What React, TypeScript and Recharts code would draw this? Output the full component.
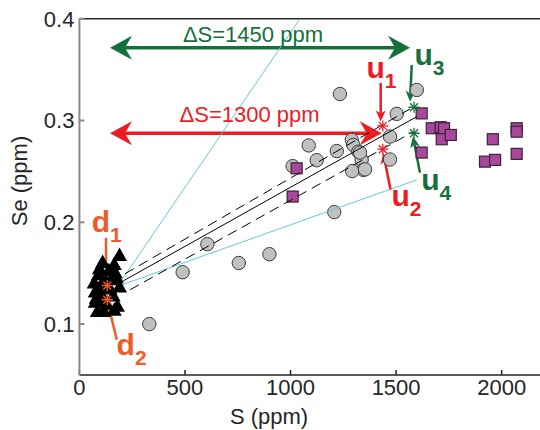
import React from 'react'
import { ReferenceDot, ReferenceLine, Scatter, ScatterChart, XAxis, YAxis } from 'recharts'

const FONT = '"Liberation Sans", Arial, Helvetica, sans-serif'
const RED = '#ed1c24'
const GREEN = '#15703b'
const ORANGE = '#f15a29'
const CYAN = '#62c8e2'
const PURPLE = '#a8479c'

// eixos
const X_DOMAIN = [0, 2200]
const Y_DOMAIN = [0.05, 0.4]
const X_TICKS = [0, 500, 1000, 1500, 2000]
const Y_TICKS = [0.1, 0.2, 0.3, 0.4]

// triângulos pretos (aglomerado perto de S ~ 100 ppm)
const triangulos = [
  { S: 190, Se: 0.167 }, { S: 165, Se: 0.158 }, { S: 110, Se: 0.16 }, { S: 140, Se: 0.152 },
  { S: 90, Se: 0.148 }, { S: 175, Se: 0.145 }, { S: 70, Se: 0.14 }, { S: 125, Se: 0.141 },
  { S: 190, Se: 0.136 }, { S: 75, Se: 0.131 }, { S: 105, Se: 0.128 }, { S: 160, Se: 0.127 },
  { S: 75, Se: 0.121 }, { S: 130, Se: 0.119 }, { S: 180, Se: 0.117 }, { S: 85, Se: 0.112 },
  { S: 115, Se: 0.112 }, { S: 165, Se: 0.113 }, { S: 90, Se: 0.133 }, { S: 145, Se: 0.134 },
  { S: 115, Se: 0.123 }, { S: 80, Se: 0.125 }, { S: 170, Se: 0.15 }, { S: 95, Se: 0.154 },
  { S: 150, Se: 0.143 }, { S: 100, Se: 0.137 },
]

// círculos cinza
const circulos = [
  { S: 331, Se: 0.1 }, { S: 489, Se: 0.151 }, { S: 606, Se: 0.1785 }, { S: 755, Se: 0.16 },
  { S: 900, Se: 0.1687 }, { S: 1207, Se: 0.21 }, { S: 1234, Se: 0.326 }, { S: 1086, Se: 0.2755 },
  { S: 1010, Se: 0.2552 }, { S: 1124, Se: 0.261 }, { S: 1219, Se: 0.27 }, { S: 1290, Se: 0.281 },
  { S: 1297, Se: 0.276 }, { S: 1321, Se: 0.2694 }, { S: 1337, Se: 0.2613 }, { S: 1345, Se: 0.2515 },
  { S: 1292, Se: 0.2503 }, { S: 1353, Se: 0.252 }, { S: 1471, Se: 0.2842 }, { S: 1471, Se: 0.2617 },
  { S: 1503, Se: 0.3065 }, { S: 1598, Se: 0.33 }, { S: 1329, Se: 0.2685 },
]

// quadrados roxos
const quadrados = [
  { S: 1621, Se: 0.307 }, { S: 1669, Se: 0.2924 }, { S: 1711, Se: 0.2934 }, { S: 1727, Se: 0.2924 },
  { S: 1716, Se: 0.2816 }, { S: 1759, Se: 0.2858 }, { S: 1621, Se: 0.2685 }, { S: 1958, Se: 0.2816 },
  { S: 1921, Se: 0.2596 }, { S: 1969, Se: 0.2613 }, { S: 2071, Se: 0.2924 }, { S: 2071, Se: 0.289 },
  { S: 2071, Se: 0.2672 }, { S: 1029, Se: 0.253 }, { S: 1010, Se: 0.2253 },
]

// asteriscos (u1/u2, u3/u4, d1/d2)
const estrelasVermelhas = [{ S: 1437, Se: 0.2947 }, { S: 1437, Se: 0.2718 }]
const estrelasVerdes = [{ S: 1585, Se: 0.313 }, { S: 1585, Se: 0.2875 }]
const estrelasLaranja = [{ S: 132, Se: 0.1379 }, { S: 132, Se: 0.1239 }]

// retas: regressão, bandas tracejadas e limites em ciano
const retaAjuste = [{ S: 192, Se: 0.1406 }, { S: 1598, Se: 0.3038 }]
const bandaSuperior = [{ S: 216, Se: 0.1494 }, { S: 1566, Se: 0.3114 }]
const bandaInferior = [{ S: 240, Se: 0.1337 }, { S: 1580, Se: 0.2888 }]
const cianoIngreme = [{ S: 192, Se: 0.1406 }, { S: 1045, Se: 0.4 }]
const cianoSuave = [{ S: 200, Se: 0.1385 }, { S: 1598, Se: 0.2417 }]

// setas duplas de ΔS
const setasDelta = [
  { x1: 145, x2: 1566, y: 0.3715, cor: GREEN },
  { x1: 145, x2: 1432, y: 0.2875, cor: RED },
]
const textosDelta = [
  { S: 822, Se: 0.3768, texto: 'ΔS=1450 ppm', cor: GREEN },
  { S: 806, Se: 0.2989, texto: 'ΔS=1300 ppm', cor: RED },
]

// setas simples apontando para os asteriscos
const setasRotulo = [
  { x1: 1427, y1: 0.3369, x2: 1427, y2: 0.2989, cor: RED },
  { x1: 1474, y1: 0.2318, x2: 1439, y2: 0.2681, cor: RED },
  { x1: 1574, y1: 0.3545, x2: 1566, y2: 0.3185, cor: GREEN },
  { x1: 1613, y1: 0.2488, x2: 1580, y2: 0.2842, cor: GREEN },
  { x1: 126, y1: 0.1847, x2: 126, y2: 0.1435, cor: ORANGE },
  { x1: 177, y1: 0.0846, x2: 137, y2: 0.1189, cor: ORANGE },
]
const rotulos = [
  { S: 1360, Se: 0.3418, letra: 'u', sub: '1', cor: RED },
  { S: 1478, Se: 0.2157, letra: 'u', sub: '2', cor: RED },
  { S: 1587, Se: 0.3545, letra: 'u', sub: '3', cor: GREEN },
  { S: 1619, Se: 0.2318, letra: 'u', sub: '4', cor: GREEN },
  { S: 58, Se: 0.1906, letra: 'd', sub: '1', cor: ORANGE },
  { S: 176, Se: 0.0699, letra: 'd', sub: '2', cor: ORANGE },
]

type P = { cx?: number; cy?: number }

const Triangulo = ({ cx = 0, cy = 0 }: P) => (
  <polygon points={`${cx},${cy - 8.5} ${cx + 7.5},${cy + 5} ${cx - 7.5},${cy + 5}`} fill="#000" />
)
const Circulo = ({ cx = 0, cy = 0 }: P) => (
  <circle cx={cx} cy={cy} r={6.7} fill="#c0c0c0" stroke="#3c3c3c" strokeWidth={1} />
)
const Quadrado = ({ cx = 0, cy = 0 }: P) => (
  <rect x={cx - 5.5} y={cy - 5.5} width={11} height={11} fill={PURPLE} stroke="#3a2438" strokeWidth={1.2} />
)
const estrela = (cor: string) => ({ cx = 0, cy = 0 }: P) => (
  <g stroke={cor} strokeWidth={1.3}>
    <line x1={cx - 5.5} y1={cy} x2={cx + 5.5} y2={cy} />
    <line x1={cx} y1={cy - 5.5} x2={cx} y2={cy + 5.5} />
    <line x1={cx - 4} y1={cy - 4} x2={cx + 4} y2={cy + 4} />
    <line x1={cx - 4} y1={cy + 4} x2={cx + 4} y2={cy - 4} />
  </g>
)
const Vazio = () => <g />

// ponta de seta côncava (estilo MATLAB) com vértice em (tx, ty)
function ponta(tx: number, ty: number, ux: number, uy: number, len: number, half: number, inset: number) {
  const nx = -uy
  const ny = ux
  const bx = tx - ux * len
  const by = ty - uy * len
  const pts = [
    [tx, ty],
    [bx + nx * half, by + ny * half],
    [tx - ux * (len - inset), ty - uy * (len - inset)],
    [bx - nx * half, by - ny * half],
  ]
  return pts.map((p) => p.join(',')).join(' ')
}

function seta(cor: string, largura: number, len: number, half: number, inset: number, dupla: boolean) {
  return (props: any) => {
    const { x1, y1, x2, y2 } = props
    const d = Math.hypot(x2 - x1, y2 - y1) || 1
    const ux = (x2 - x1) / d
    const uy = (y2 - y1) / d
    const ax = dupla ? x1 + ux * (len - inset) : x1
    const ay = dupla ? y1 + uy * (len - inset) : y1
    return (
      <g>
        <line
          x1={ax}
          y1={ay}
          x2={x2 - ux * (len - inset)}
          y2={y2 - uy * (len - inset)}
          stroke={cor}
          strokeWidth={largura}
        />
        <polygon points={ponta(x2, y2, ux, uy, len, half, inset)} fill={cor} />
        {dupla && <polygon points={ponta(x1, y1, -ux, -uy, len, half, inset)} fill={cor} />}
      </g>
    )
  }
}

const tickStyle = { fontSize: 22, fill: '#262626', fontFamily: FONT }

export default function App() {
  return (
    <div style={{ width: 540, height: 430, overflow: 'hidden', background: '#fff' }}>
      <style>{'body{margin:0}'}</style>
      <ScatterChart
        width={550}
        height={430}
        margin={{ top: 17.7, right: 5.1, left: 19.4, bottom: 25 }}
        style={{ fontFamily: FONT }}
      >
        <XAxis
          xAxisId={0}
          type="number"
          dataKey="S"
          domain={X_DOMAIN}
          ticks={X_TICKS}
          allowDataOverflow
          height={30}
          stroke="#262626"
          strokeWidth={1.5}
          tickSize={-5}
          tickMargin={9.5}
          tick={tickStyle}
          label={(p: any) => {
            const vb = p.viewBox
            return (
              <text x={vb.x + 189.6} y={vb.y + 49} textAnchor="middle" fontSize={22} fill="#262626" fontFamily={FONT}>
                S (ppm)
              </text>
            )
          }}
        />
        <XAxis
          xAxisId="top"
          orientation="top"
          type="number"
          domain={X_DOMAIN}
          ticks={X_TICKS}
          allowDataOverflow
          height={1}
          stroke="#262626"
          strokeWidth={1.5}
          tickSize={-5}
          tick={false}
        />
        <YAxis
          yAxisId={0}
          type="number"
          dataKey="Se"
          domain={Y_DOMAIN}
          ticks={Y_TICKS}
          allowDataOverflow
          width={60}
          stroke="#8a8a8a"
          strokeWidth={2}
          tickSize={-5}
          tickMargin={10}
          tick={tickStyle}
          tickFormatter={(v: number) => v.toFixed(1)}
          label={(p: any) => {
            const vb = p.viewBox
            const x = vb.x + 7.6
            const y = vb.y + 162.3
            return (
              <text
                x={x}
                y={y}
                transform={`rotate(-90, ${x}, ${y})`}
                textAnchor="middle"
                fontSize={22}
                fill="#262626"
                fontFamily={FONT}
              >
                Se (ppm)
              </text>
            )
          }}
        />
        <YAxis
          yAxisId="right"
          orientation="right"
          type="number"
          domain={Y_DOMAIN}
          ticks={Y_TICKS}
          allowDataOverflow
          width={1}
          stroke="#262626"
          strokeWidth={1.5}
          tickSize={-5}
          tick={false}
        />

        <Scatter data={circulos} shape={Circulo} isAnimationActive={false} />
        <Scatter data={quadrados} shape={Quadrado} isAnimationActive={false} />
        <Scatter data={cianoIngreme} shape={Vazio} line={{ stroke: CYAN, strokeWidth: 1 }} isAnimationActive={false} />
        <Scatter data={cianoSuave} shape={Vazio} line={{ stroke: CYAN, strokeWidth: 1 }} isAnimationActive={false} />
        <Scatter
          data={bandaSuperior}
          shape={Vazio}
          line={{ stroke: '#000', strokeWidth: 1, strokeDasharray: '10 6' }}
          isAnimationActive={false}
        />
        <Scatter
          data={bandaInferior}
          shape={Vazio}
          line={{ stroke: '#000', strokeWidth: 1, strokeDasharray: '10 6' }}
          isAnimationActive={false}
        />
        <Scatter data={retaAjuste} shape={Vazio} line={{ stroke: '#000', strokeWidth: 1 }} isAnimationActive={false} />
        <Scatter data={triangulos} shape={Triangulo} isAnimationActive={false} />
        <Scatter data={estrelasVermelhas} shape={estrela(RED)} isAnimationActive={false} />
        <Scatter data={estrelasVerdes} shape={estrela(GREEN)} isAnimationActive={false} />
        <Scatter data={estrelasLaranja} shape={estrela(ORANGE)} isAnimationActive={false} />

        {setasDelta.map((s, i) => (
          <ReferenceLine
            key={`d${i}`}
            segment={[{ x: s.x1, y: s.y }, { x: s.x2, y: s.y }]}
            ifOverflow="visible"
            shape={seta(s.cor, 3.5, 22, 12, 7, true)}
          />
        ))}
        {setasRotulo.map((s, i) => (
          <ReferenceLine
            key={`s${i}`}
            segment={[{ x: s.x1, y: s.y1 }, { x: s.x2, y: s.y2 }]}
            ifOverflow="visible"
            shape={seta(s.cor, 2.5, 11, 5, 3, false)}
          />
        ))}
        {textosDelta.map((t, i) => (
          <ReferenceDot
            key={`t${i}`}
            x={t.S}
            y={t.Se}
            r={0}
            ifOverflow="visible"
            shape={(p: any) => (
              <text x={p.cx} y={p.cy} textAnchor="middle" fontSize={22} fill={t.cor} fontFamily={FONT}>
                {t.texto}
              </text>
            )}
          />
        ))}
        {rotulos.map((r, i) => (
          <ReferenceDot
            key={`r${i}`}
            x={r.S}
            y={r.Se}
            r={0}
            ifOverflow="visible"
            shape={(p: any) => (
              <text x={p.cx} y={p.cy} fontSize={30} fontWeight="bold" fill={r.cor} fontFamily={FONT}>
                {r.letra}
                <tspan fontSize={21} dy={10}>
                  {r.sub}
                </tspan>
              </text>
            )}
          />
        ))}
      </ScatterChart>
    </div>
  )
}
